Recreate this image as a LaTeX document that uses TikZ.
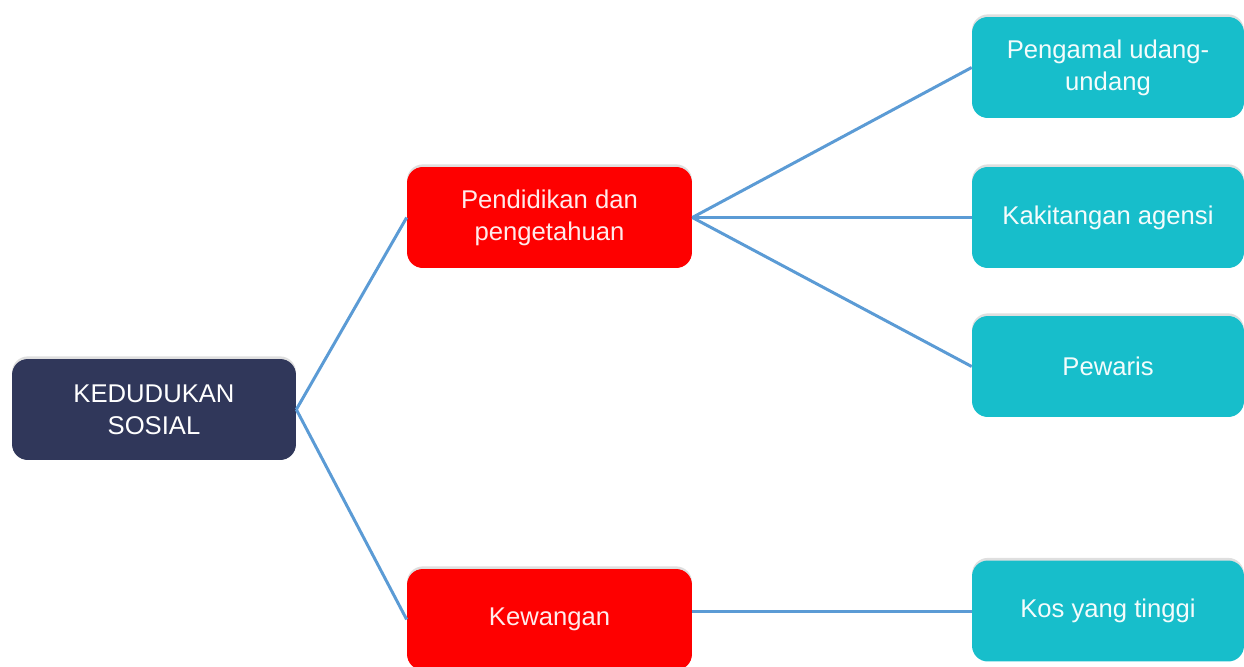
\documentclass[tikz,border=0pt]{standalone}
\usepackage{fontspec}
\setmainfont{Liberation Sans}
\usepackage{tikz}
\usetikzlibrary{positioning,shadows}

\definecolor{navybox}{HTML}{30375A}
\definecolor{redbox}{HTML}{FE0000}
\definecolor{tealbox}{HTML}{17BECB}
\definecolor{linkblue}{HTML}{5B9BD5}

\begin{document}
\begin{tikzpicture}[x=0.02cm,y=-0.02cm,
  box/.style={rectangle,rounded corners=9pt,draw=none,align=center,
    minimum height=2.02cm,inner sep=2pt,
    font=\fontsize{14.6}{18.2}\selectfont,
    drop shadow={shadow xshift=0pt,shadow yshift=1.5pt,opacity=0.25}},
  root/.style={box,fill=navybox,text=white,minimum width=5.68cm},
  mid/.style={box,fill=redbox,text=white!92!red,minimum width=5.70cm},
  leaf/.style={box,fill=tealbox,text=white!95!tealbox,minimum width=5.44cm},
  link/.style={draw=linkblue,line width=1.7pt}]
  \useasboundingbox (0,0) rectangle (1244,666);
  \node[root] (kedudukan) at (154,409.5) {KEDUDUKAN\\SOSIAL};
  \node[mid]  (pendidikan) at (549.5,217.5) {Pendidikan dan\\pengetahuan};
  \node[mid]  (kewangan) at (549.5,619.5) {Kewangan};
  \node[leaf] (pengamal) at (1108,67.5) {Pengamal udang-\\undang};
  \node[leaf] (kakitangan) at (1108,217.5) {Kakitangan agensi};
  \node[leaf] (pewaris) at (1108,366.5) {Pewaris};
  \node[leaf] (kos) at (1108,611) {Kos yang tinggi};
\path[link] (kedudukan.east) edge (pendidikan.west)
	    (kedudukan.east) edge (kewangan.west)
	    (pendidikan.east) edge (pengamal.west)
	    (pendidikan.east) edge (kakitangan.west)
	    (pendidikan.east) edge (pewaris.west)
	    (kewangan.east |- kos.west) edge (kos.west);
\end{tikzpicture}
\end{document}
